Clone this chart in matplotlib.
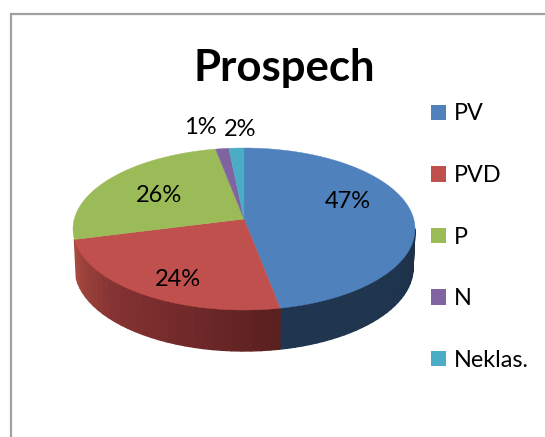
import numpy as np
import matplotlib.pyplot as plt
from matplotlib.collections import PolyCollection
from matplotlib.colors import LinearSegmentedColormap
from matplotlib.patches import Patch

categories = ['PV', 'PVD', 'P', 'N', 'Neklas.']
values = [47, 24, 26, 1.4, 1.6]
colors = ['#4F81BD', '#C0504D', '#9BBB59', '#8064A2', '#4BACC6']
title = 'Prospech'

plt.rcParams['font.family'] = ['Lato', 'DejaVu Sans']

# the pie is a tilted disc, so the centre sits above the middle of the ellipse
CX, CY, A, B = 244, 229, 171, 81
BOTTOM_CY, BOTTOM_A, BOTTOM_B = 268, 169, 83
TILT = 10 / 81


def project(frac):
    t = 2 * np.pi * np.asarray(frac)
    x, y = np.sin(t), np.cos(t)
    d = 1 + TILT * y
    return x * np.sqrt(1 - TILT ** 2) / d, (y + TILT) / d


def draw_wall(ax, s_start, s_end, cmap):
    s = np.linspace(s_start, s_end, 30)
    top_x, top_y = CX + A * np.sin(s), CY - B * np.cos(s)
    bot_x, bot_y = CX + BOTTOM_A * np.sin(s), BOTTOM_CY - BOTTOM_B * np.cos(s)
    quads = []
    for i in range(len(s) - 1):
        quads.append([(top_x[i], top_y[i]), (top_x[i + 1], top_y[i + 1]),
                      (bot_x[i + 1], bot_y[i + 1]), (bot_x[i], bot_y[i])])
    shades = cmap(np.linspace(0, 1, len(quads)))
    ax.add_collection(PolyCollection(quads, facecolors=shades, edgecolors=shades, linewidths=1.0))


fig = plt.figure(figsize=(5.45, 4.37), dpi=100)
ax = fig.add_axes([0, 0, 1, 1])
ax.set_xlim(0, 545)
ax.set_ylim(437, 0)
ax.axis('off')

# chart frame, cut off on the right and at the bottom
ax.plot([11, 11, 545], [437, 14, 14], color='#A0A0A0', lw=1.6, solid_joinstyle='miter')

cum = np.concatenate([[0], np.cumsum(values)]) / np.sum(values)

# side wall, only blue and red are visible from the front
bx, by = project(cum[1])
rx, ry = project(cum[2])
s_blue = np.arctan2(bx, by) % (2 * np.pi)
s_red = np.arctan2(rx, ry) % (2 * np.pi)
blue_wall = LinearSegmentedColormap.from_list('blue_wall', ['#1C2F47', '#1F344E', '#20364F', '#1F3550'])
red_wall = LinearSegmentedColormap.from_list('red_wall', ['#5A2020', '#72292A', '#853333', '#A8493F'])
draw_wall(ax, np.pi / 2, s_blue, blue_wall)
draw_wall(ax, s_blue, s_red, red_wall)

for i, color in enumerate(colors):
    fr = np.linspace(cum[i], cum[i + 1], 120)
    x, y = project(fr)
    px = np.concatenate([[CX], CX + A * x])
    py = np.concatenate([[CY - B * TILT], CY - B * y])
    ax.fill(px, py, color=color, lw=0.3)

label_x = [348, 178, 159, 200, 240]
label_y = [202, 279, 195, 128, 130]
for v, lx, ly in zip(values, label_x, label_y):
    ax.text(lx, ly, f'{v:.0f}%', ha='center', va='center', fontsize=17, color='black')

ax.text(284, 68, title, ha='center', va='center', fontsize=31.5, fontweight='bold', color='black')

handles = [Patch(facecolor=c, edgecolor='none') for c in colors]
ax.legend(handles, categories, loc='upper left', bbox_to_anchor=(431 / 545, 1 - 103.5 / 437), frameon=False,
          fontsize=16.8, borderpad=0, borderaxespad=0, handlelength=0.64, handleheight=0.64,
          handletextpad=0.36, labelspacing=1.74)

plt.savefig('out.png', dpi=100)
